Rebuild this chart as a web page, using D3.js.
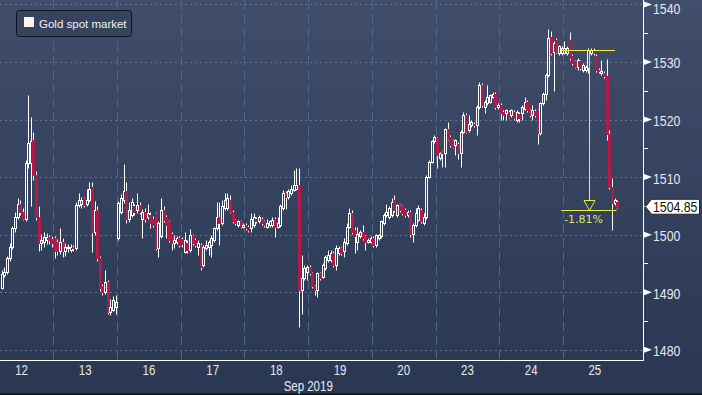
<!DOCTYPE html>
<html><head><meta charset="utf-8">
<script src="https://cdn.jsdelivr.net/npm/d3@7"></script>
<style>html,body{margin:0;padding:0;background:#2d3a56;overflow:hidden}</style>
</head><body><svg id="c" width="702" height="395"></svg>
<script>
// ---------- DATA ----------
const dayLabels = ["12","13","16","17","18","19","20","23","24","25"];
const monthLabel = "Sep 2019";
const seriesName = "Gold spot market";
const hoursPerDay = 24;
const firstHour = 4; // trading-hour index of the first candle (from Sep 12 open)
const open = [
1490.8,1493.0,1493.6,1495.9,1497.9,1501.1,1503.1,1505.4,1504.0,1502.8,1512.4,1512.5,1516.4,1510.4,1503.1,1498.5,1498.8,1499.0,1499.6,1499.3,
1499.4,1498.8,1497.1,1498.8,1497.1,1497.6,1497.4,1497.9,1497.6,1505.2,1505.4,1506.3,1505.4,1506.0,1508.3,1500.5,1504.3,1495.9,1491.0,1490.1,1491.8,1486.6,1487.0,1487.5,
1499.4,1504.0,1506.0,1507.5,1502.8,1503.4,1504.9,1504.3,1505.2,1502.8,1504.0,1503.1,1503.4,1502.8,1503.7,1497.6,1499.7,1504.3,1503.1,1502.3,1500.2,1498.5,1498.8,1499.4,
1499.2,1497.0,1498.5,1497.3,1499.9,1499.1,1497.9,1498.2,1494.7,1497.6,1497.9,1498.2,1499.1,1501.1,1503.1,1502.0,1504.6,1504.6,1506.0,1504.0,1502.5,1501.7,1502.3,1501.4,
1501.7,1501.4,1501.1,1501.7,1502.8,1502.3,1502.8,1502.3,1501.4,1501.7,1501.7,1502.8,1501.4,1501.7,1504.6,1507.2,1506.5,1507.2,1507.8,1508.0,1508.6,1490.4,1492.4,1493.6,
1494.4,1493.3,1491.0,1490.4,1493.3,1492.7,1494.2,1495.6,1495.6,1496.8,1494.7,1496.8,1497.6,1497.1,1498.5,1501.4,1503.7,1500.8,1498.8,1499.7,1500.5,1499.7,1498.8,1498.8,
1499.4,1498.2,1499.4,1499.7,1502.0,1503.4,1503.1,1503.4,1506.0,1503.4,1505.2,1504.9,1504.3,1503.4,1504.0,1500.2,1501.7,1502.6,1504.3,1502.0,1503.1,1510.1,1512.7,1516.2,
1516.8,1513.3,1514.5,1514.1,1518.4,1517.0,1516.4,1515.6,1515.8,1514.1,1517.9,1520.8,1518.2,1519.0,1519.3,1519.0,1522.2,1526.0,1522.2,1522.8,1523.1,1524.0,1524.5,1522.2,
1522.5,1521.3,1521.1,1521.3,1520.8,1521.3,1519.9,1521.0,1521.1,1521.9,1523.1,1521.6,1520.8,1521.5,1521.6,1517.6,1522.8,1524.5,1527.7,1534.4,1531.8,1533.9,1531.5,1531.5,
1531.6,1531.5,1533.9,1531.0,1530.1,1529.2,1530.1,1528.6,1528.6,1528.9,1531.5,1532.1,1531.0,1528.6,1528.1,1528.1,1527.5,1517.5,1508.3,1505.5,1505.7];
const high = [
1493.8,1494.4,1496.3,1498.5,1501.5,1504.0,1506.3,1506.0,1504.6,1513.0,1524.3,1520.5,1517.8,1511.0,1504.9,1500.1,1500.5,1500.3,1500.0,1499.8,
1499.8,1499.2,1501.1,1499.4,1498.6,1498.4,1498.3,1498.2,1505.6,1507.3,1506.6,1506.6,1508.0,1509.2,1509.2,1505.8,1505.0,1496.3,1491.5,1493.8,1492.2,1488.9,1489.3,1489.5,
1505.8,1507.0,1512.2,1509.2,1505.7,1506.3,1505.3,1507.2,1505.6,1504.4,1504.6,1505.4,1504.0,1503.2,1504.0,1502.3,1506.3,1504.9,1503.4,1502.6,1500.5,1499.9,1499.8,1499.7,
1499.6,1500.5,1499.0,1500.9,1500.2,1499.5,1499.1,1498.5,1498.2,1499.1,1499.1,1499.9,1501.4,1505.7,1505.7,1506.0,1507.2,1507.2,1506.9,1504.3,1502.8,1502.6,1502.6,1502.0,
1502.0,1501.7,1503.7,1503.7,1503.1,1503.4,1503.1,1502.6,1502.8,1502.6,1503.1,1503.1,1503.1,1505.4,1507.8,1507.5,1508.0,1508.6,1511.2,1511.5,1511.5,1496.5,1494.7,1494.7,
1494.7,1493.6,1491.3,1493.6,1493.6,1495.0,1496.5,1497.3,1497.3,1497.1,1498.2,1498.0,1497.9,1499.4,1502.0,1504.6,1504.3,1501.4,1501.4,1500.8,1501.7,1500.0,1499.4,1499.7,
1499.7,1500.2,1500.2,1502.6,1503.7,1505.4,1504.9,1506.3,1506.9,1505.4,1505.4,1505.2,1504.6,1504.3,1504.3,1502.0,1504.6,1505.2,1504.6,1503.8,1510.4,1513.0,1516.5,1517.3,
1517.0,1514.4,1514.7,1518.6,1519.6,1517.3,1516.7,1516.7,1516.1,1518.2,1521.3,1521.1,1520.8,1519.9,1519.6,1522.5,1526.6,1526.3,1523.4,1526.0,1524.5,1524.8,1524.8,1522.8,
1522.8,1521.6,1521.9,1521.6,1521.9,1521.6,1521.6,1521.3,1522.5,1523.9,1523.4,1521.9,1522.5,1521.8,1521.9,1523.1,1524.8,1528.0,1535.7,1535.3,1533.6,1534.2,1533.0,1532.7,
1533.6,1532.7,1535.2,1531.3,1530.4,1530.7,1530.4,1529.8,1529.5,1532.4,1532.4,1532.4,1531.3,1528.9,1530.4,1528.4,1530.5,1518.2,1509.8,1506.3,1506.0];
const low = [
1490.5,1492.6,1493.2,1495.5,1497.5,1500.5,1502.8,1503.5,1502.5,1502.3,1511.5,1505.0,1509.5,1502.5,1497.2,1497.3,1497.8,1498.3,1498.4,1497.8,
1495.9,1496.5,1496.7,1496.2,1496.3,1497.0,1497.0,1497.1,1497.3,1504.8,1504.6,1504.8,1505.0,1505.6,1497.0,1500.0,1495.5,1490.3,1489.5,1489.7,1486.2,1486.0,1486.8,1486.3,
1499.0,1503.6,1505.5,1502.0,1502.2,1503.0,1503.5,1503.8,1503.6,1499.4,1502.2,1502.7,1501.2,1501.4,1497.3,1496.2,1499.4,1502.2,1499.4,1498.8,1497.3,1497.6,1498.4,1497.9,
1497.8,1496.8,1496.8,1497.0,1498.2,1497.9,1496.5,1493.9,1494.4,1497.3,1496.5,1496.2,1498.8,1500.8,1498.2,1501.7,1504.3,1504.3,1503.7,1502.0,1501.7,1501.4,1501.1,1501.1,
1500.8,1500.5,1500.5,1501.4,1502.0,1502.0,1501.7,1501.4,1501.1,1501.4,1501.4,1499.6,1501.1,1501.4,1504.3,1504.5,1506.2,1506.9,1507.5,1507.8,1484.0,1486.3,1492.1,1492.1,
1493.0,1490.7,1489.5,1489.2,1492.1,1492.4,1493.9,1495.3,1495.3,1494.4,1493.9,1496.5,1496.5,1496.2,1498.2,1501.1,1500.2,1496.8,1497.3,1499.4,1499.1,1497.3,1498.5,1498.5,
1497.9,1497.9,1499.1,1499.4,1501.7,1503.1,1502.8,1503.1,1504.0,1503.1,1504.0,1503.4,1503.1,1503.1,1499.6,1498.8,1501.4,1502.3,1502.0,1501.7,1502.8,1509.8,1512.4,1515.9,
1511.5,1513.0,1511.8,1511.8,1516.4,1515.3,1515.0,1513.8,1513.2,1511.8,1517.6,1517.6,1517.9,1518.7,1518.7,1517.3,1521.9,1522.2,1521.1,1522.5,1522.8,1523.7,1521.9,1521.9,
1519.9,1519.9,1519.9,1520.2,1520.5,1519.9,1519.6,1519.6,1519.9,1521.6,1521.3,1520.5,1519.9,1520.5,1515.8,1517.3,1522.5,1523.4,1527.4,1531.2,1524.9,1531.5,1531.2,1531.2,
1531.3,1531.2,1530.4,1529.5,1528.9,1528.6,1528.6,1528.3,1528.3,1528.1,1531.2,1531.2,1528.3,1528.1,1527.8,1527.2,1516.5,1508.0,1500.8,1505.2,1504.6];
const close = [
1493.2,1493.6,1495.9,1497.9,1501.1,1503.1,1505.4,1504.0,1502.8,1512.4,1515.9,1516.2,1510.4,1503.1,1498.5,1499.1,1499.6,1499.6,1499.0,1498.5,
1497.1,1497.1,1498.8,1497.1,1497.9,1497.9,1497.9,1497.6,1505.2,1506.0,1506.0,1505.2,1506.0,1508.0,1500.5,1504.3,1495.9,1490.7,1490.1,1491.8,1486.6,1487.5,1488.6,1488.3,
1505.5,1506.3,1507.5,1502.8,1504.3,1505.7,1504.0,1505.2,1504.0,1504.0,1502.8,1503.7,1502.0,1501.7,1497.6,1502.0,1504.3,1502.5,1501.7,1499.1,1498.5,1499.1,1499.4,1498.2,
1498.3,1499.1,1497.3,1499.9,1498.5,1498.2,1498.5,1494.4,1497.9,1498.2,1498.8,1499.4,1501.1,1503.1,1502.0,1504.9,1506.0,1506.3,1504.0,1502.3,1502.0,1502.3,1501.4,1501.7,
1501.1,1500.8,1502.8,1503.1,1502.3,1503.1,1502.0,1501.7,1502.0,1502.3,1502.5,1501.4,1502.0,1504.9,1507.2,1506.5,1507.6,1508.0,1508.6,1508.6,1490.4,1492.4,1494.2,1494.4,
1493.3,1491.0,1490.4,1493.3,1492.4,1494.7,1496.2,1496.5,1496.8,1494.7,1497.6,1497.6,1496.8,1498.8,1501.4,1503.7,1500.5,1499.7,1500.2,1500.5,1499.4,1498.8,1499.1,1499.4,
1498.2,1500.0,1500.0,1502.3,1503.4,1504.0,1504.6,1505.7,1504.3,1505.2,1504.3,1503.7,1503.4,1504.0,1500.2,1501.7,1503.7,1504.6,1502.3,1503.1,1510.1,1512.7,1516.2,1517.0,
1513.8,1514.1,1514.1,1518.4,1516.7,1515.6,1515.3,1516.4,1514.1,1517.9,1520.8,1517.9,1519.3,1519.6,1519.0,1522.2,1526.0,1522.5,1523.1,1523.9,1524.2,1524.5,1522.2,1522.5,
1521.1,1520.8,1521.6,1520.5,1521.6,1520.2,1521.3,1520.2,1522.2,1523.1,1521.6,1520.8,1521.6,1520.8,1517.6,1522.8,1524.5,1527.7,1534.1,1531.5,1533.3,1531.8,1532.7,1532.4,
1532.4,1532.4,1530.7,1529.8,1529.2,1530.4,1528.9,1529.5,1529.2,1532.1,1532.1,1531.5,1528.6,1528.4,1528.4,1527.5,1517.5,1508.3,1505.5,1506.0,1504.85];
const yMajor = [1480,1490,1500,1510,1520,1530,1540];
const yMinor = [1485,1495,1505,1515,1525,1535];
const lastPrice = 1504.85;
// drawdown annotation (hour indices / prices)
const annFromPrice = 1532.0, annToPrice = 1504.3, annLabel = "-1.81%";
const annStartHour = 215.3, annTopEndHour = 235.6, annBottomEndHour = 236.2, annArrowHour = 225.8;

// ---------- LAYOUT ----------
const W = 702, H = 395, plotRight = 643, plotBottom = 360;
const candles = open.map((o,i)=>({t: firstHour + i, o, h: high[i], l: low[i], c: close[i]}));
const svg = d3.select("#c");
const defs = svg.append("defs");
const g = defs.append("linearGradient").attr("id","bg").attr("x1",0).attr("y1",0).attr("x2",0).attr("y2",1);
g.append("stop").attr("offset","0%").attr("stop-color","#404d6b");
g.append("stop").attr("offset","100%").attr("stop-color","#2a3752");
defs.append("clipPath").attr("id","plot").append("rect").attr("x",0).attr("y",0).attr("width",plotRight).attr("height",plotBottom);
svg.append("rect").attr("width",W).attr("height",H).attr("fill","url(#bg)");

const x = d3.scaleLinear().domain([0, 244]).range([-10.3, 637.3]);
const y = d3.scaleLinear().domain([1480, 1540]).range([349.8, 4.4]);
const cy = v => Math.round(y(v)) + 0.5;

// condensed text helper (horizontal squeeze of a regular sans face)
const SQ = 0.82;
function narrowText(parent, px, py, str, size, anchor, fill) {
  const gg = parent.append("g").attr("transform", `translate(${px},${py}) scale(${SQ},1)`);
  return gg.append("text").attr("x",0).attr("y",0).attr("dy","0.36em")
    .attr("text-anchor",anchor).attr("font-family","'Liberation Sans',Arial,sans-serif")
    .attr("font-size",size).attr("fill",fill).text(str);
}

// grid
const grid = svg.append("g");
grid.selectAll("line.h").data(yMajor).join("line")
  .attr("x1",0).attr("x2",plotRight).attr("y1",d=>cy(d)).attr("y2",d=>cy(d))
  .attr("stroke","#63728f").attr("stroke-dasharray","2,3").attr("stroke-width",1);
const bounds = d3.range(1, dayLabels.length).map(k=>k*hoursPerDay);
grid.selectAll("line.v").data(bounds).join("line")
  .attr("x1",d=>Math.round(x(d))+0.5).attr("x2",d=>Math.round(x(d))+0.5).attr("y1",0).attr("y2",plotBottom)
  .attr("stroke","#4e6788").attr("stroke-dasharray","9,5").attr("stroke-width",1);

// candles
const cg = svg.append("g").attr("clip-path","url(#plot)");
candles.forEach(d=>{
  const cx = Math.round(x(d.t + 0.5));
  const up = d.c >= d.o;
  const top = cy(Math.max(d.o,d.c)), bot = Math.max(cy(Math.min(d.o,d.c)), top+1);
  const wx = cx + 0.5;
  if (up) {
    cg.append("line").attr("x1",wx).attr("x2",wx).attr("y1",cy(d.h)).attr("y2",top).attr("stroke","#fff");
    cg.append("line").attr("x1",wx).attr("x2",wx).attr("y1",bot).attr("y2",cy(d.l)).attr("stroke","#fff");
    cg.append("rect").attr("x",cx-0.5).attr("width",2).attr("y",top).attr("height",bot-top)
      .attr("fill","none").attr("stroke","#fff").attr("stroke-width",1);
  } else {
    cg.append("line").attr("x1",wx).attr("x2",wx).attr("y1",cy(d.h)).attr("y2",cy(d.l)).attr("stroke","#fff");
    cg.append("rect").attr("x",cx-1).attr("width",3).attr("y",top-0.5).attr("height",bot-top+1)
      .attr("fill","#b51a47");
  }
});

// axes lines
svg.append("line").attr("x1",plotRight+0.5).attr("x2",plotRight+0.5).attr("y1",0).attr("y2",plotBottom+1).attr("stroke","#fff");
svg.append("line").attr("x1",0).attr("x2",plotRight+1).attr("y1",plotBottom+0.5).attr("y2",plotBottom+0.5).attr("stroke","#fff");
svg.append("rect").attr("x",0).attr("y",H-1.5).attr("width",W).attr("height",1.5).attr("fill","#0b0f18");

// y ticks
svg.selectAll("path.mk").data(yMajor).join("path")
  .attr("d",d=>{const yy=y(d); return `M${plotRight+1},${yy-3} L${plotRight+9},${yy} L${plotRight+1},${yy+3} Z`;})
  .attr("fill","#fff");
svg.selectAll("line.mn").data(yMinor).join("line")
  .attr("x1",plotRight+1).attr("x2",plotRight+5).attr("y1",d=>cy(d)).attr("y2",d=>cy(d)).attr("stroke","#fff");
yMajor.forEach(v => narrowText(svg, plotRight+10, Math.max(y(v)+1, 8.5), String(v), 15, "start", "#e8e8ec"));

// x labels
dayLabels.forEach((d,i) => narrowText(svg, x(i*hoursPerDay + hoursPerDay/2), 370, d, 14, "middle", "#e8e8ec"));
narrowText(svg, x(5*hoursPerDay), 385.5, monthLabel, 14, "middle", "#e8e8ec");

// legend
svg.append("rect").attr("x",16.5).attr("y",10.5).attr("width",115).attr("height",26).attr("rx",3)
  .attr("fill","#35435f").attr("stroke","#10141c");
svg.append("rect").attr("x",24).attr("y",17).attr("width",10).attr("height",10).attr("fill","#fff4ee");
svg.append("text").attr("x",39).attr("y",27.5).attr("font-family","'Liberation Sans',Arial,sans-serif")
  .attr("font-size",11.5).attr("fill","#f0f0f0").text(seriesName);

// annotation
const yc = "#eeee36";
const yTop = cy(annFromPrice), yBot = cy(annToPrice), ax = Math.round(x(annArrowHour))+0.5;
svg.append("line").attr("x1",x(annStartHour)).attr("x2",x(annTopEndHour)).attr("y1",yTop).attr("y2",yTop).attr("stroke",yc);
svg.append("line").attr("x1",x(annStartHour)).attr("x2",x(annBottomEndHour)).attr("y1",yBot).attr("y2",yBot).attr("stroke",yc);
svg.append("line").attr("x1",ax).attr("x2",ax).attr("y1",yTop).attr("y2",yBot-10).attr("stroke",yc).attr("stroke-width",1);
svg.append("path").attr("d",`M${ax-5.5},${yBot-10} L${ax+5.5},${yBot-10} L${ax},${yBot} Z`).attr("fill","none").attr("stroke",yc);
svg.append("text").attr("x",x(annStartHour)+3).attr("y",yBot+12.5).attr("font-family","'DejaVu Sans',sans-serif")
  .attr("font-size",11).attr("fill","#dce36c").text(annLabel);

// last price tag
const ly = y(lastPrice);
svg.append("path").attr("d",`M${plotRight+2.5},${ly} L${plotRight+8.5},${ly-7.5} L${W-2.5},${ly-7.5} L${W-2.5},${ly+7.5} L${plotRight+8.5},${ly+7.5} Z`)
  .attr("fill","#fffdf4").attr("stroke","#222");
narrowText(svg, plotRight+10, ly, lastPrice.toFixed(2), 15, "start", "#111");
</script></body></html>
